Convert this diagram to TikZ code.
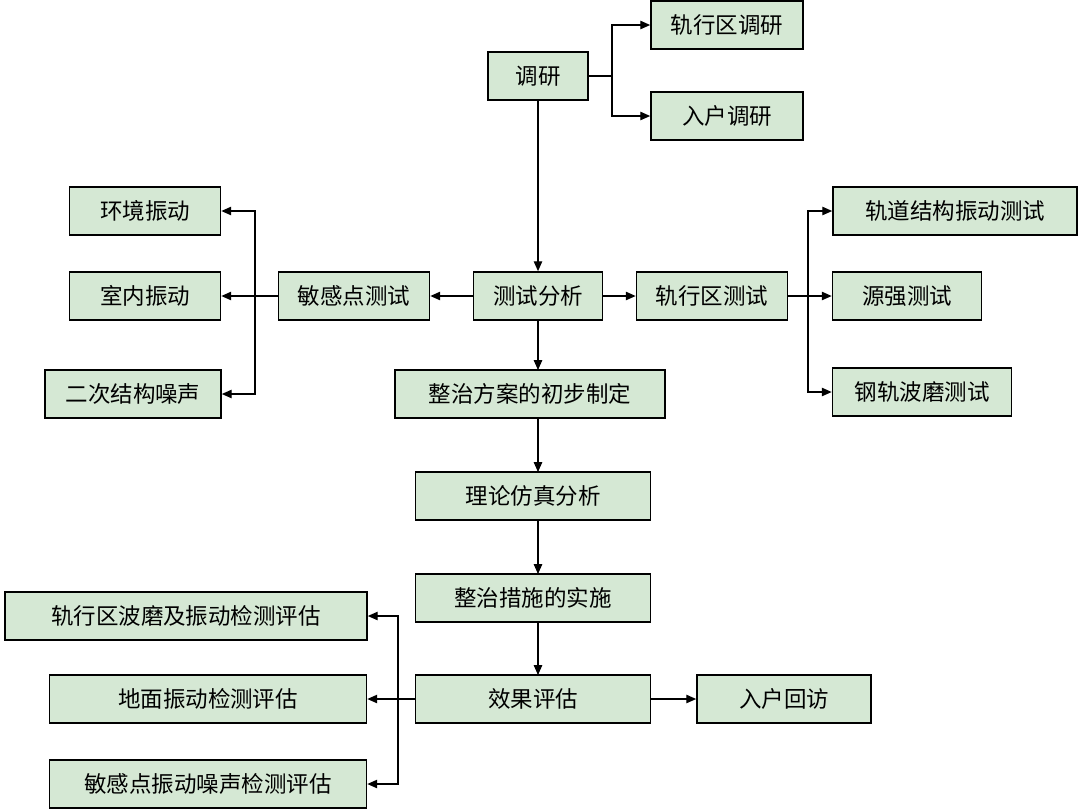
\documentclass[tikz,border=0pt]{standalone}
\usepackage{fontspec}
\setmainfont{Noto Sans CJK SC}
\usetikzlibrary{arrows.meta}
\begin{document}
\begin{tikzpicture}[x=0.025cm,y=-0.025cm,
  bx/.style={draw=black,line width=1.2pt,fill=green!12!gray!20!white,fill=boxc,minimum height=48*0.025cm,inner sep=0pt,font=\fontsize{16}{18}\selectfont},
  ar/.style={-{Triangle[length=7pt,width=6pt]},line width=0.8pt},
  ln/.style={line width=0.8pt}]
\definecolor{boxc}{HTML}{D5E8D4}
\useasboundingbox (0,0) rectangle (1080,810);
\newcommand{\bb}[5]{\node[bx,minimum width=#4*0.025cm] (#1) at (#2,#3) {#5};}
\bb{dy}{538}{76}{100}{调研}
\bb{gdy}{727}{25}{152}{轨行区调研}
\bb{rh}{727}{116}{152}{入户调研}
\bb{cs}{538}{296}{129}{测试分析}
\bb{mg}{354}{296}{151}{敏感点测试}
\bb{gc}{712}{296}{151}{轨行区测试}
\bb{hj}{145}{211}{151}{环境振动}
\bb{sn}{145}{296}{151}{室内振动}
\bb{ec}{133}{394}{176}{二次结构噪声}
\bb{gd}{955}{211}{244}{轨道结构振动测试}
\bb{yq}{907}{296}{149}{源强测试}
\bb{gg}{922}{392}{179}{钢轨波磨测试}
\bb{zf}{530}{394}{270}{整治方案的初步制定}
\bb{ll}{533}{496}{235}{理论仿真分析}
\bb{zs}{533}{598}{235}{整治措施的实施}
\bb{xg}{533}{699}{235}{效果评估}
\bb{rf}{784}{699}{174}{入户回访}
\bb{e1}{186}{616}{362}{轨行区波磨及振动检测评估}
\bb{e2}{208}{699}{317}{地面振动检测评估}
\bb{e3}{208}{784}{317}{敏感点振动噪声检测评估}
% top
\draw[ar] (dy.south) -- (cs.north);
\coordinate (b1) at (612,76);
\draw[ln] (dy.east) -- (b1);
\draw[ar] (b1) |- (gdy.west);
\draw[ar] (b1) |- (rh.west);
% left
\draw[ar] (cs.west) -- (mg.east);
\coordinate (b2) at (255,296);
\draw[ln] (mg.west) -- (b2);
\draw[ar] (b2) |- (hj.east);
\draw[ar] (b2) -- (sn.east);
\draw[ar] (b2) |- (ec.east);
% right
\draw[ar] (cs.east) -- (gc.west);
\coordinate (b3) at (808,296);
\draw[ln] (gc.east) -- (b3);
\draw[ar] (b3) |- (gd.west);
\draw[ar] (b3) -- (yq.west);
\draw[ar] (b3) |- (gg.west);
% down
\draw[ar] (cs.south) -- (538,370);
\draw[ar] (538,418) -- (538,472);
\draw[ar] (ll.south -| 538,0) -- (538,574);
\draw[ar] (zs.south -| 538,0) -- (538,675);
\draw[ar] (xg.east) -- (rf.west);
\coordinate (b4) at (398,699);
\draw[ln] (xg.west) -- (b4);
\draw[ar] (b4) |- (e1.east);
\draw[ar] (b4) -- (e2.east);
\draw[ar] (b4) |- (e3.east);
\end{tikzpicture}
\end{document}
